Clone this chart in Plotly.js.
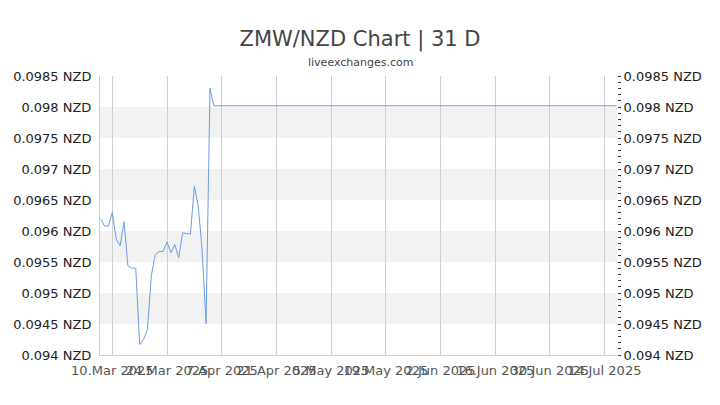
<!DOCTYPE html>
<html>
<head>
<meta charset="utf-8">
<script src="https://cdn.plot.ly/plotly-3.0.1.min.js"></script>
<style>html,body{margin:0;padding:0;background:#fff}#chart{width:720px;height:405px}</style>
</head>
<body>
<div id="chart"></div>
<script>
const dates = [
  '2025-03-07','2025-03-08','2025-03-09','2025-03-10','2025-03-11','2025-03-12','2025-03-13',
  '2025-03-14','2025-03-15','2025-03-16','2025-03-17','2025-03-18','2025-03-19','2025-03-20',
  '2025-03-21','2025-03-22','2025-03-23','2025-03-24','2025-03-25','2025-03-26','2025-03-27',
  '2025-03-28','2025-03-29','2025-03-30','2025-03-31','2025-04-01','2025-04-02','2025-04-03',
  '2025-04-04','2025-04-05','2025-07-17'
];
const rates = [
  0.09620,0.09608,0.09608,0.09630,0.09587,0.09576,0.09615,
  0.09544,0.09540,0.09540,0.09417,0.09425,0.09442,0.09528,
  0.09562,0.09567,0.09567,0.09582,0.09565,0.09578,0.09557,
  0.09597,0.09596,0.09595,0.09672,0.09640,0.09568,0.09451,
  0.09830,0.09802,0.09802
];
const xTickVals = ['2025-03-10','2025-03-24','2025-04-07','2025-04-21','2025-05-05','2025-05-19','2025-06-02','2025-06-16','2025-06-30','2025-07-14'];
const xTickLabels = ['10.Mar 2025','24.Mar 2025','7.Apr 2025','21.Apr 2025','5.May 2025','19.May 2025','2.Jun 2025','16.Jun 2025','30.Jun 2025','14.Jul 2025'];
const yTickVals = [0.094,0.0945,0.095,0.0955,0.096,0.0965,0.097,0.0975,0.098,0.0985];
const yTickLabels = ['0.094 NZD','0.0945 NZD','0.095 NZD','0.0955 NZD','0.096 NZD','0.0965 NZD','0.097 NZD','0.0975 NZD','0.098 NZD','0.0985 NZD'];
const xRange = ['2025-03-06 20:30','2025-07-17 04:00'];
const yRange = [0.094, 0.0985];

const bands = [];
for (let i = 1; i < yTickVals.length - 1; i += 2) {
  bands.push({type:'rect', xref:'paper', yref:'y', x0:0, x1:1,
    y0:yTickVals[i], y1:yTickVals[i+1], fillcolor:'#f2f2f2', line:{width:0}, layer:'below'});
}

const font = 'DejaVu Sans, sans-serif';
const trace = {x:dates, y:rates, type:'scatter', mode:'lines',
  line:{color:'#6a9cec', width:1}, hoverinfo:'skip'};

const layout = {
  width:720, height:405,
  margin:{l:100, r:103, t:76, b:50},
  paper_bgcolor:'#fff', plot_bgcolor:'rgba(0,0,0,0)',
  showlegend:false,
  font:{family:font, size:13, color:'#222'},
  title:{text:'ZMW/NZD Chart | 31 D', font:{family:font, size:21, color:'#444'},
    x:0.5, xref:'container', xanchor:'center', y:1-39/405, yref:'container', yanchor:'middle'},
  annotations:[{text:'liveexchanges.com', xref:'paper', yref:'paper', x:(360-100)/517, y:1+(76-63)/279,
    xanchor:'center', yanchor:'middle', showarrow:false, font:{family:font, size:11, color:'#444'}}],
  shapes:bands,
  xaxis:{type:'date', range:xRange, tickvals:xTickVals, ticktext:xTickLabels,
    showgrid:true, gridcolor:'#cfcfcf', gridwidth:1, ticks:'', tickangle:0, ticklabelstandoff:3,
    tickfont:{family:font, size:13, color:'#555'},
    showline:true, linecolor:'#ccc', linewidth:1, zeroline:false, fixedrange:true},
  yaxis:{range:yRange, tickvals:yTickVals, ticktext:yTickLabels, showgrid:false,
    ticks:'', ticklen:0, ticklabelstandoff:5, tickfont:{family:font, size:13, color:'#222'},
    showline:true, linecolor:'#ccc', linewidth:1, zeroline:false},
  yaxis2:{range:yRange, overlaying:'y', side:'right', anchor:'x', tickvals:yTickVals, ticktext:yTickLabels,
    showgrid:false, showline:false, zeroline:false, ticks:'outside', ticklen:3, tickcolor:'#333', tickwidth:1,
    minor:{dtick:0.0001, tick0:0.094, ticks:'outside', ticklen:3, tickcolor:'#333', tickwidth:1, showgrid:false},
    tickfont:{family:font, size:13, color:'#222'}}
};

const trace2 = {x:[dates[0]], y:[rates[0]], yaxis:'y2', type:'scatter', mode:'markers',
  marker:{opacity:0}, hoverinfo:'skip'};

Plotly.newPlot('chart', [trace, trace2], layout, {staticPlot:true});
</script>
</body>
</html>
